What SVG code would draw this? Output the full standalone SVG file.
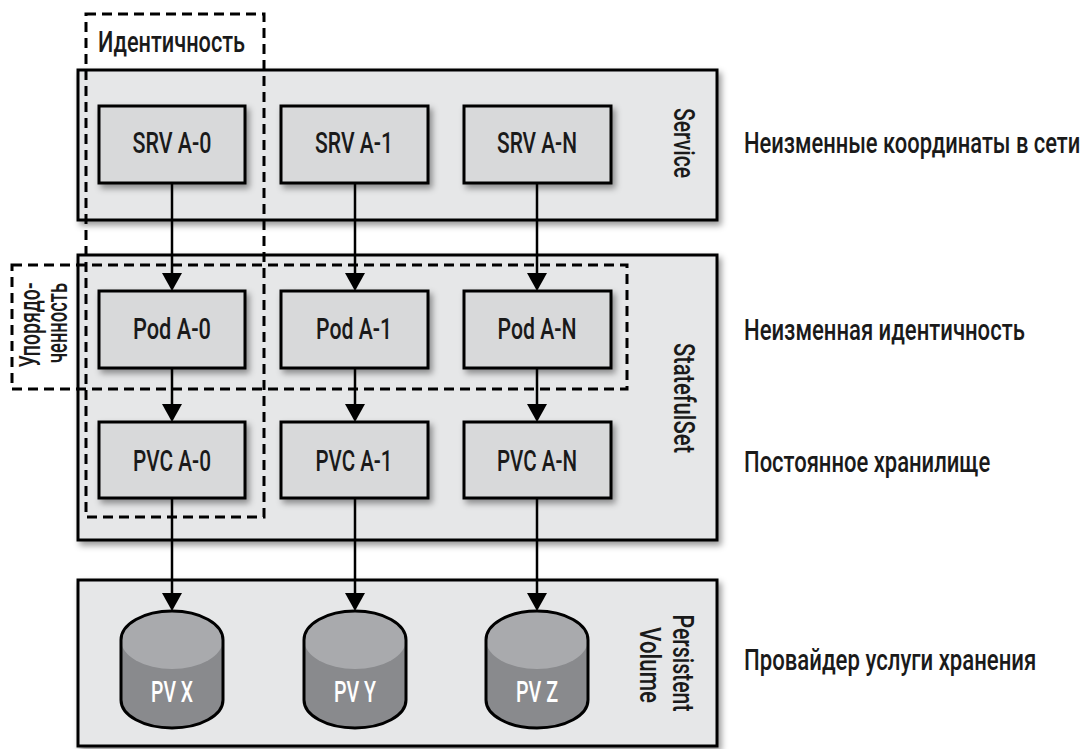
<svg xmlns="http://www.w3.org/2000/svg" width="1084" height="749" viewBox="0 0 1084 749">
  <style>
    .frame { fill: #e6e7e8; stroke: #000; stroke-width: 3; filter: url(#shadow); }
    .box { fill: #d8d9da; stroke: #000; stroke-width: 3; filter: url(#shadow); }
    .dash { fill: none; stroke: #000; stroke-width: 3; stroke-dasharray: 10 6; }
    .link { fill: none; stroke: #000; stroke-width: 2.5; marker-end: url(#arrow); }
    text { font-family: Roboto, "Liberation Sans", Arial, sans-serif; font-weight: 500; font-size: 29px; fill: #1a1a1a; }
    .mid { text-anchor: middle; }
    .pv { fill: #ffffff; }
    .body { fill: #898a8d; }
    .cap { fill: #a9aaad; }
    .rim { fill: none; stroke: #000; stroke-width: 3; }
  </style>
  <defs>
    <filter id="shadow" x="-10%" y="-10%" width="125%" height="130%">
      <feDropShadow dx="3" dy="4" stdDeviation="3" flood-color="#000" flood-opacity="0.4"/>
    </filter>
    <marker id="arrow" markerUnits="userSpaceOnUse" viewBox="0 0 18 20" refX="10" refY="10" markerWidth="18" markerHeight="20" orient="auto">
      <path d="M0,0 L18,10 L0,20 Z" fill="#000"/>
    </marker>
  </defs>

  <!-- layer frames -->
  <g id="service">
    <rect class="frame" x="78" y="70" width="639" height="150"/>
    <text transform="translate(674,143) rotate(90)" class="mid" textLength="70" lengthAdjust="spacingAndGlyphs">Service</text>
  </g>
  <g id="statefulset">
    <rect class="frame" x="78" y="255" width="639" height="285"/>
    <text transform="translate(674,398) rotate(90)" class="mid" textLength="110" lengthAdjust="spacingAndGlyphs">StatefulSet</text>
  </g>
  <g id="persistent-volume">
    <rect class="frame" x="78" y="580" width="639" height="166"/>
    <text transform="translate(673,663) rotate(90)" class="mid" textLength="97" lengthAdjust="spacingAndGlyphs">Persistent</text>
    <text transform="translate(640,665) rotate(90)" class="mid" textLength="76" lengthAdjust="spacingAndGlyphs">Volume</text>
  </g>

  <!-- identity and ordering groupings -->
  <g id="identity">
    <rect class="dash" x="86" y="14" width="178" height="503"/>
    <text x="98" y="52" textLength="147" lengthAdjust="spacingAndGlyphs">Идентичность</text>
  </g>
  <g id="ordering">
    <rect class="dash" x="12" y="265" width="615" height="124"/>
    <text transform="translate(40,325) rotate(-90)" class="mid" textLength="85" lengthAdjust="spacingAndGlyphs">Упорядо-</text>
    <text transform="translate(67,323) rotate(-90)" class="mid" textLength="80" lengthAdjust="spacingAndGlyphs">ченность</text>
  </g>

  <!-- connectors -->
  <g id="connectors">
    <line class="link" x1="172" y1="183" x2="172" y2="283"/>
    <line class="link" x1="355" y1="183" x2="355" y2="283"/>
    <line class="link" x1="537" y1="183" x2="537" y2="283"/>
    <line class="link" x1="172" y1="368" x2="172" y2="414"/>
    <line class="link" x1="355" y1="368" x2="355" y2="414"/>
    <line class="link" x1="537" y1="368" x2="537" y2="414"/>
    <line class="link" x1="172" y1="498" x2="172" y2="603"/>
    <line class="link" x1="355" y1="498" x2="355" y2="603"/>
    <line class="link" x1="537" y1="498" x2="537" y2="603"/>
  </g>

  <!-- service nodes -->
  <g id="srv-a-0">
    <rect class="box" x="99" y="106" width="146" height="77"/>
    <text x="172" y="153" class="mid" textLength="79" lengthAdjust="spacingAndGlyphs">SRV A-0</text>
  </g>
  <g id="srv-a-1">
    <rect class="box" x="281" y="106" width="147" height="77"/>
    <text x="354" y="153" class="mid" textLength="78" lengthAdjust="spacingAndGlyphs">SRV A-1</text>
  </g>
  <g id="srv-a-n">
    <rect class="box" x="464" y="106" width="147" height="77"/>
    <text x="537" y="153" class="mid" textLength="80" lengthAdjust="spacingAndGlyphs">SRV A-N</text>
  </g>

  <!-- pod nodes -->
  <g id="pod-a-0">
    <rect class="box" x="99" y="291" width="146" height="77"/>
    <text x="172" y="339" class="mid" textLength="78" lengthAdjust="spacingAndGlyphs">Pod A-0</text>
  </g>
  <g id="pod-a-1">
    <rect class="box" x="281" y="291" width="147" height="77"/>
    <text x="354" y="339" class="mid" textLength="76" lengthAdjust="spacingAndGlyphs">Pod A-1</text>
  </g>
  <g id="pod-a-n">
    <rect class="box" x="464" y="291" width="147" height="77"/>
    <text x="537" y="339" class="mid" textLength="79" lengthAdjust="spacingAndGlyphs">Pod A-N</text>
  </g>

  <!-- claim nodes -->
  <g id="pvc-a-0">
    <rect class="box" x="99" y="422" width="146" height="76"/>
    <text x="172" y="471" class="mid" textLength="78" lengthAdjust="spacingAndGlyphs">PVC A-0</text>
  </g>
  <g id="pvc-a-1">
    <rect class="box" x="281" y="422" width="147" height="76"/>
    <text x="354" y="471" class="mid" textLength="77" lengthAdjust="spacingAndGlyphs">PVC A-1</text>
  </g>
  <g id="pvc-a-n">
    <rect class="box" x="464" y="422" width="147" height="76"/>
    <text x="537" y="471" class="mid" textLength="80" lengthAdjust="spacingAndGlyphs">PVC A-N</text>
  </g>

  <!-- volumes -->
  <g id="pv-x">
    <path class="body" d="M121,640 A51,29 0 0 1 223,640 L223,700 A51,28 0 0 1 121,700 Z"/>
    <ellipse class="cap" cx="172" cy="640" rx="51" ry="29"/>
    <path class="rim" d="M121,640 A51,29 0 0 1 223,640 L223,700 A51,28 0 0 1 121,700 Z"/>
    <text x="172" y="702" class="mid pv" textLength="42" lengthAdjust="spacingAndGlyphs">PV X</text>
  </g>
  <g id="pv-y">
    <path class="body" d="M304,640 A51,29 0 0 1 406,640 L406,700 A51,28 0 0 1 304,700 Z"/>
    <ellipse class="cap" cx="355" cy="640" rx="51" ry="29"/>
    <path class="rim" d="M304,640 A51,29 0 0 1 406,640 L406,700 A51,28 0 0 1 304,700 Z"/>
    <text x="355" y="702" class="mid pv" textLength="42" lengthAdjust="spacingAndGlyphs">PV Y</text>
  </g>
  <g id="pv-z">
    <path class="body" d="M486,640 A51,29 0 0 1 588,640 L588,700 A51,28 0 0 1 486,700 Z"/>
    <ellipse class="cap" cx="537" cy="640" rx="51" ry="29"/>
    <path class="rim" d="M486,640 A51,29 0 0 1 588,640 L588,700 A51,28 0 0 1 486,700 Z"/>
    <text x="537" y="702" class="mid pv" textLength="42" lengthAdjust="spacingAndGlyphs">PV Z</text>
  </g>

  <!-- layer descriptions, narrowed horizontally -->
  <g id="descriptions">
    <text transform="translate(744,153) scale(0.72,1)" textLength="467" lengthAdjust="spacingAndGlyphs">Неизменные координаты в сети</text>
    <text transform="translate(744,340) scale(0.72,1)" textLength="390" lengthAdjust="spacingAndGlyphs">Неизменная идентичность</text>
    <text transform="translate(744,472) scale(0.72,1)" textLength="342" lengthAdjust="spacingAndGlyphs">Постоянное хранилище</text>
    <text transform="translate(744,670) scale(0.72,1)" textLength="406" lengthAdjust="spacingAndGlyphs">Провайдер услуги хранения</text>
  </g>
</svg>
